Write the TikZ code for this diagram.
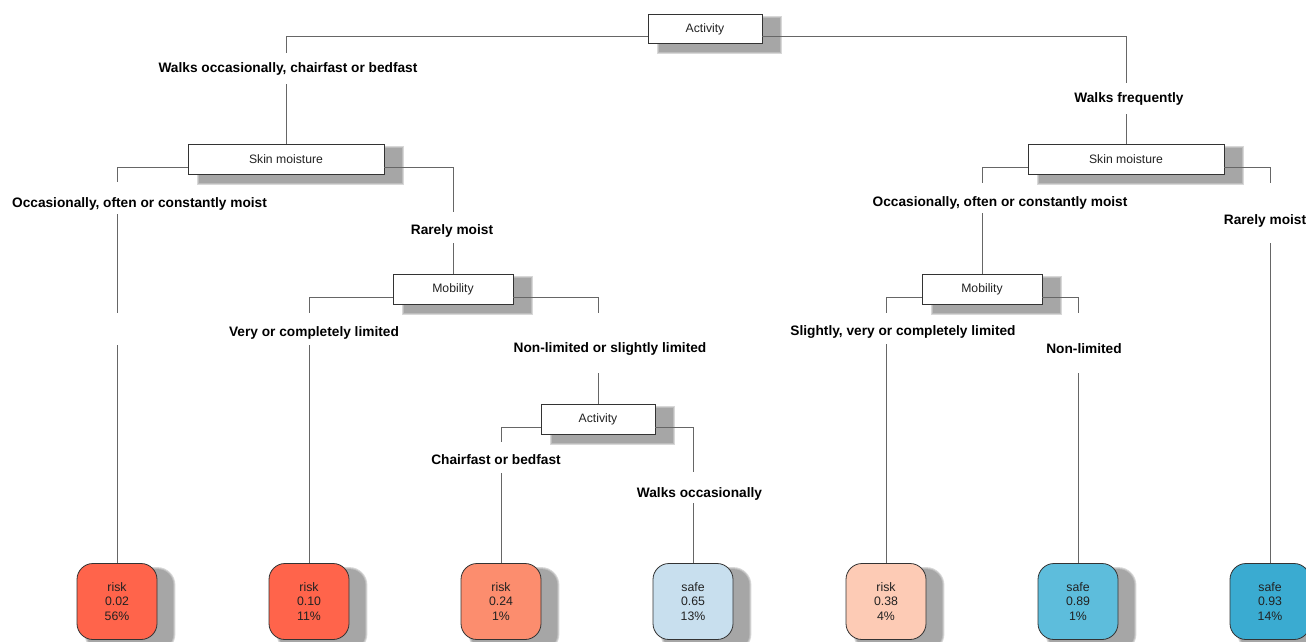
\documentclass[tikz,border=0pt]{standalone}
\usepackage{fontspec}
\setmainfont{Liberation Sans}
\pgfdeclarelayer{bg}
\pgfdeclarelayer{background}
\pgfsetlayers{bg,background,main}
\definecolor{edgecol}{HTML}{666666}
\definecolor{boxline}{HTML}{333333}
\definecolor{textcol}{HTML}{222222}
\definecolor{shadowcol}{HTML}{A6A6A6}
\definecolor{shadowmid}{HTML}{BDBDBD}
\definecolor{shadowout}{HTML}{D8D8D8}
\definecolor{riskA}{HTML}{FF644B}
\definecolor{riskB}{HTML}{FC8D6E}
\definecolor{riskC}{HTML}{FDCBB5}
\definecolor{safeA}{HTML}{C8DFEE}
\definecolor{safeB}{HTML}{5DBDDC}
\definecolor{safeC}{HTML}{3AABD1}
\newcommand{\myboxshadow}[1]{%
  \begin{pgfonlayer}{background}
    \fill[shadowout] ([xshift=9pt,yshift=-2pt]#1.north west) rectangle ([xshift=20pt,yshift=-10pt]#1.south east);
    \fill[shadowmid] ([xshift=10pt,yshift=-3pt]#1.north west) rectangle ([xshift=19pt,yshift=-9pt]#1.south east);
    \fill[shadowcol] ([xshift=11pt,yshift=-4pt]#1.north west) rectangle ([xshift=18pt,yshift=-8pt]#1.south east);
  \end{pgfonlayer}}
\newcommand{\myleafshadow}[1]{%
  \begin{pgfonlayer}{background}
    \fill[shadowout, rounded corners=18pt] ([xshift=8pt,yshift=-4pt]#1.north west) rectangle ([xshift=18pt,yshift=-12pt]#1.south east);
    \fill[shadowmid, rounded corners=17pt] ([xshift=9pt,yshift=-5pt]#1.north west) rectangle ([xshift=17pt,yshift=-11pt]#1.south east);
    \fill[shadowcol, rounded corners=16pt] ([xshift=10pt,yshift=-6pt]#1.north west) rectangle ([xshift=16pt,yshift=-10pt]#1.south east);
  \end{pgfonlayer}}
\begin{document}
\begin{tikzpicture}[x=1pt,y=-1pt,
  edge/.style={draw=edgecol, line width=0.8pt},
  splitbox/.style={draw=boxline, fill=white, line width=0.8pt, text=textcol,
    font=\fontsize{12.2}{14}\selectfont, inner sep=0pt, minimum height=29.5pt},
  lbl/.style={font=\fontsize{13.7}{16}\selectfont\bfseries, text=black, inner sep=0pt},
  leafbox/.style={draw=boxline, line width=0.8pt, rounded corners=16pt,
    minimum width=80pt, minimum height=76pt, align=center,
    font=\fontsize{12.3}{14.6}\selectfont, text=textcol, inner sep=0pt},
]
\begin{pgfonlayer}{bg}
\fill[white] (0,0) rectangle (1306,642);
\end{pgfonlayer}
\useasboundingbox (0,0) rectangle (1306,642);

% split nodes
\node[splitbox, minimum width=114pt] (root) at (705,29) {Activity};
\node[splitbox, minimum width=196pt] (sm1) at (286,159.5) {Skin moisture};
\node[splitbox, minimum width=196pt] (sm2) at (1126,159.5) {Skin moisture};
\node[splitbox, minimum width=120pt] (mob1) at (453,289.5) {Mobility};
\node[splitbox, minimum width=120pt] (mob2) at (982,289.5) {Mobility};
\node[splitbox, minimum width=114pt] (act2) at (598,419.5) {Activity};
\foreach \n in {root,sm1,sm2,mob1,mob2,act2} {\myboxshadow{\n}}

% leaves
\node[leafbox, fill=riskA] (leaf1) at (117,601.5) {risk\\0.02\\56\%};
\node[leafbox, fill=riskA] (leaf2) at (309,601.5) {risk\\0.10\\11\%};
\node[leafbox, fill=riskB] (leaf3) at (501,601.5) {risk\\0.24\\1\%};
\node[leafbox, fill=safeA] (leaf4) at (693,601.5) {safe\\0.65\\13\%};
\node[leafbox, fill=riskC] (leaf5) at (886,601.5) {risk\\0.38\\4\%};
\node[leafbox, fill=safeB] (leaf6) at (1078,601.5) {safe\\0.89\\1\%};
\node[leafbox, fill=safeC] (leaf7) at (1270,601.5) {safe\\0.93\\14\%};
\foreach \n in {leaf1,leaf2,leaf3,leaf4,leaf5,leaf6,leaf7} {\myleafshadow{\n}}

% connectors
\draw[edge] ([yshift=7.5pt]root.south west) -| (286,53) (286,84) -- (sm1.north);
\draw[edge] ([yshift=7.5pt]root.south east) -| (1126,83) (1126,114) -- (sm2.north);
\draw[edge] ([yshift=7.5pt]sm1.south west) -| (117,182) (117,214) -- (117,313) (117,345) -- (leaf1.north);
\draw[edge] ([yshift=7.5pt]sm1.south east) -| (453,212) (453,243) -- (mob1.north);
\draw[edge] ([yshift=7.5pt]sm2.south west) -| (982,183) (982,213) -- (mob2.north);
\draw[edge] ([yshift=7.5pt]sm2.south east) -| (1270,183) (1270,243) -- (leaf7.north);
\draw[edge] ([yshift=7.5pt]mob1.south west) -| (309,313) (309,345) -- (leaf2.north);
\draw[edge] ([yshift=7.5pt]mob1.south east) -| (598,313) (598,373) -- (act2.north);
\draw[edge] ([yshift=7.5pt]mob2.south west) -| (886,313) (886,344) -- (leaf5.north);
\draw[edge] ([yshift=7.5pt]mob2.south east) -| (1078,313) (1078,373) -- (leaf6.north);
\draw[edge] ([yshift=7.5pt]act2.south west) -| (501,442) (501,473) -- (leaf3.north);
\draw[edge] ([yshift=7.5pt]act2.south east) -| (693,472) (693,503) -- (leaf4.north);

% split labels
\node[lbl] (l1) at (288,68.5) {Walks occasionally, chairfast or bedfast};
\node[lbl] (l2) at (1129,98.5) {Walks frequently};
\node[lbl] (l3) at (139.5,203.5) {Occasionally, often or constantly moist};
\node[lbl] (l4) at (452,230.5) {Rarely moist};
\node[lbl] (l5) at (1000,202.5) {Occasionally, often or constantly moist};
\node[lbl] (l6) at (1265,220.5) {Rarely moist};
\node[lbl] (l7) at (314,332.5) {Very or completely limited};
\node[lbl] (l8) at (610,348.5) {Non-limited or slightly limited};
\node[lbl] (l9) at (903,331.5) {Slightly, very or completely limited};
\node[lbl] (l10) at (1084,348.5) {Non-limited};
\node[lbl] (l11) at (496,459.5) {Chairfast or bedfast};
\node[lbl] (l12) at (699.5,493.5) {Walks occasionally};
\end{tikzpicture}
\end{document}
